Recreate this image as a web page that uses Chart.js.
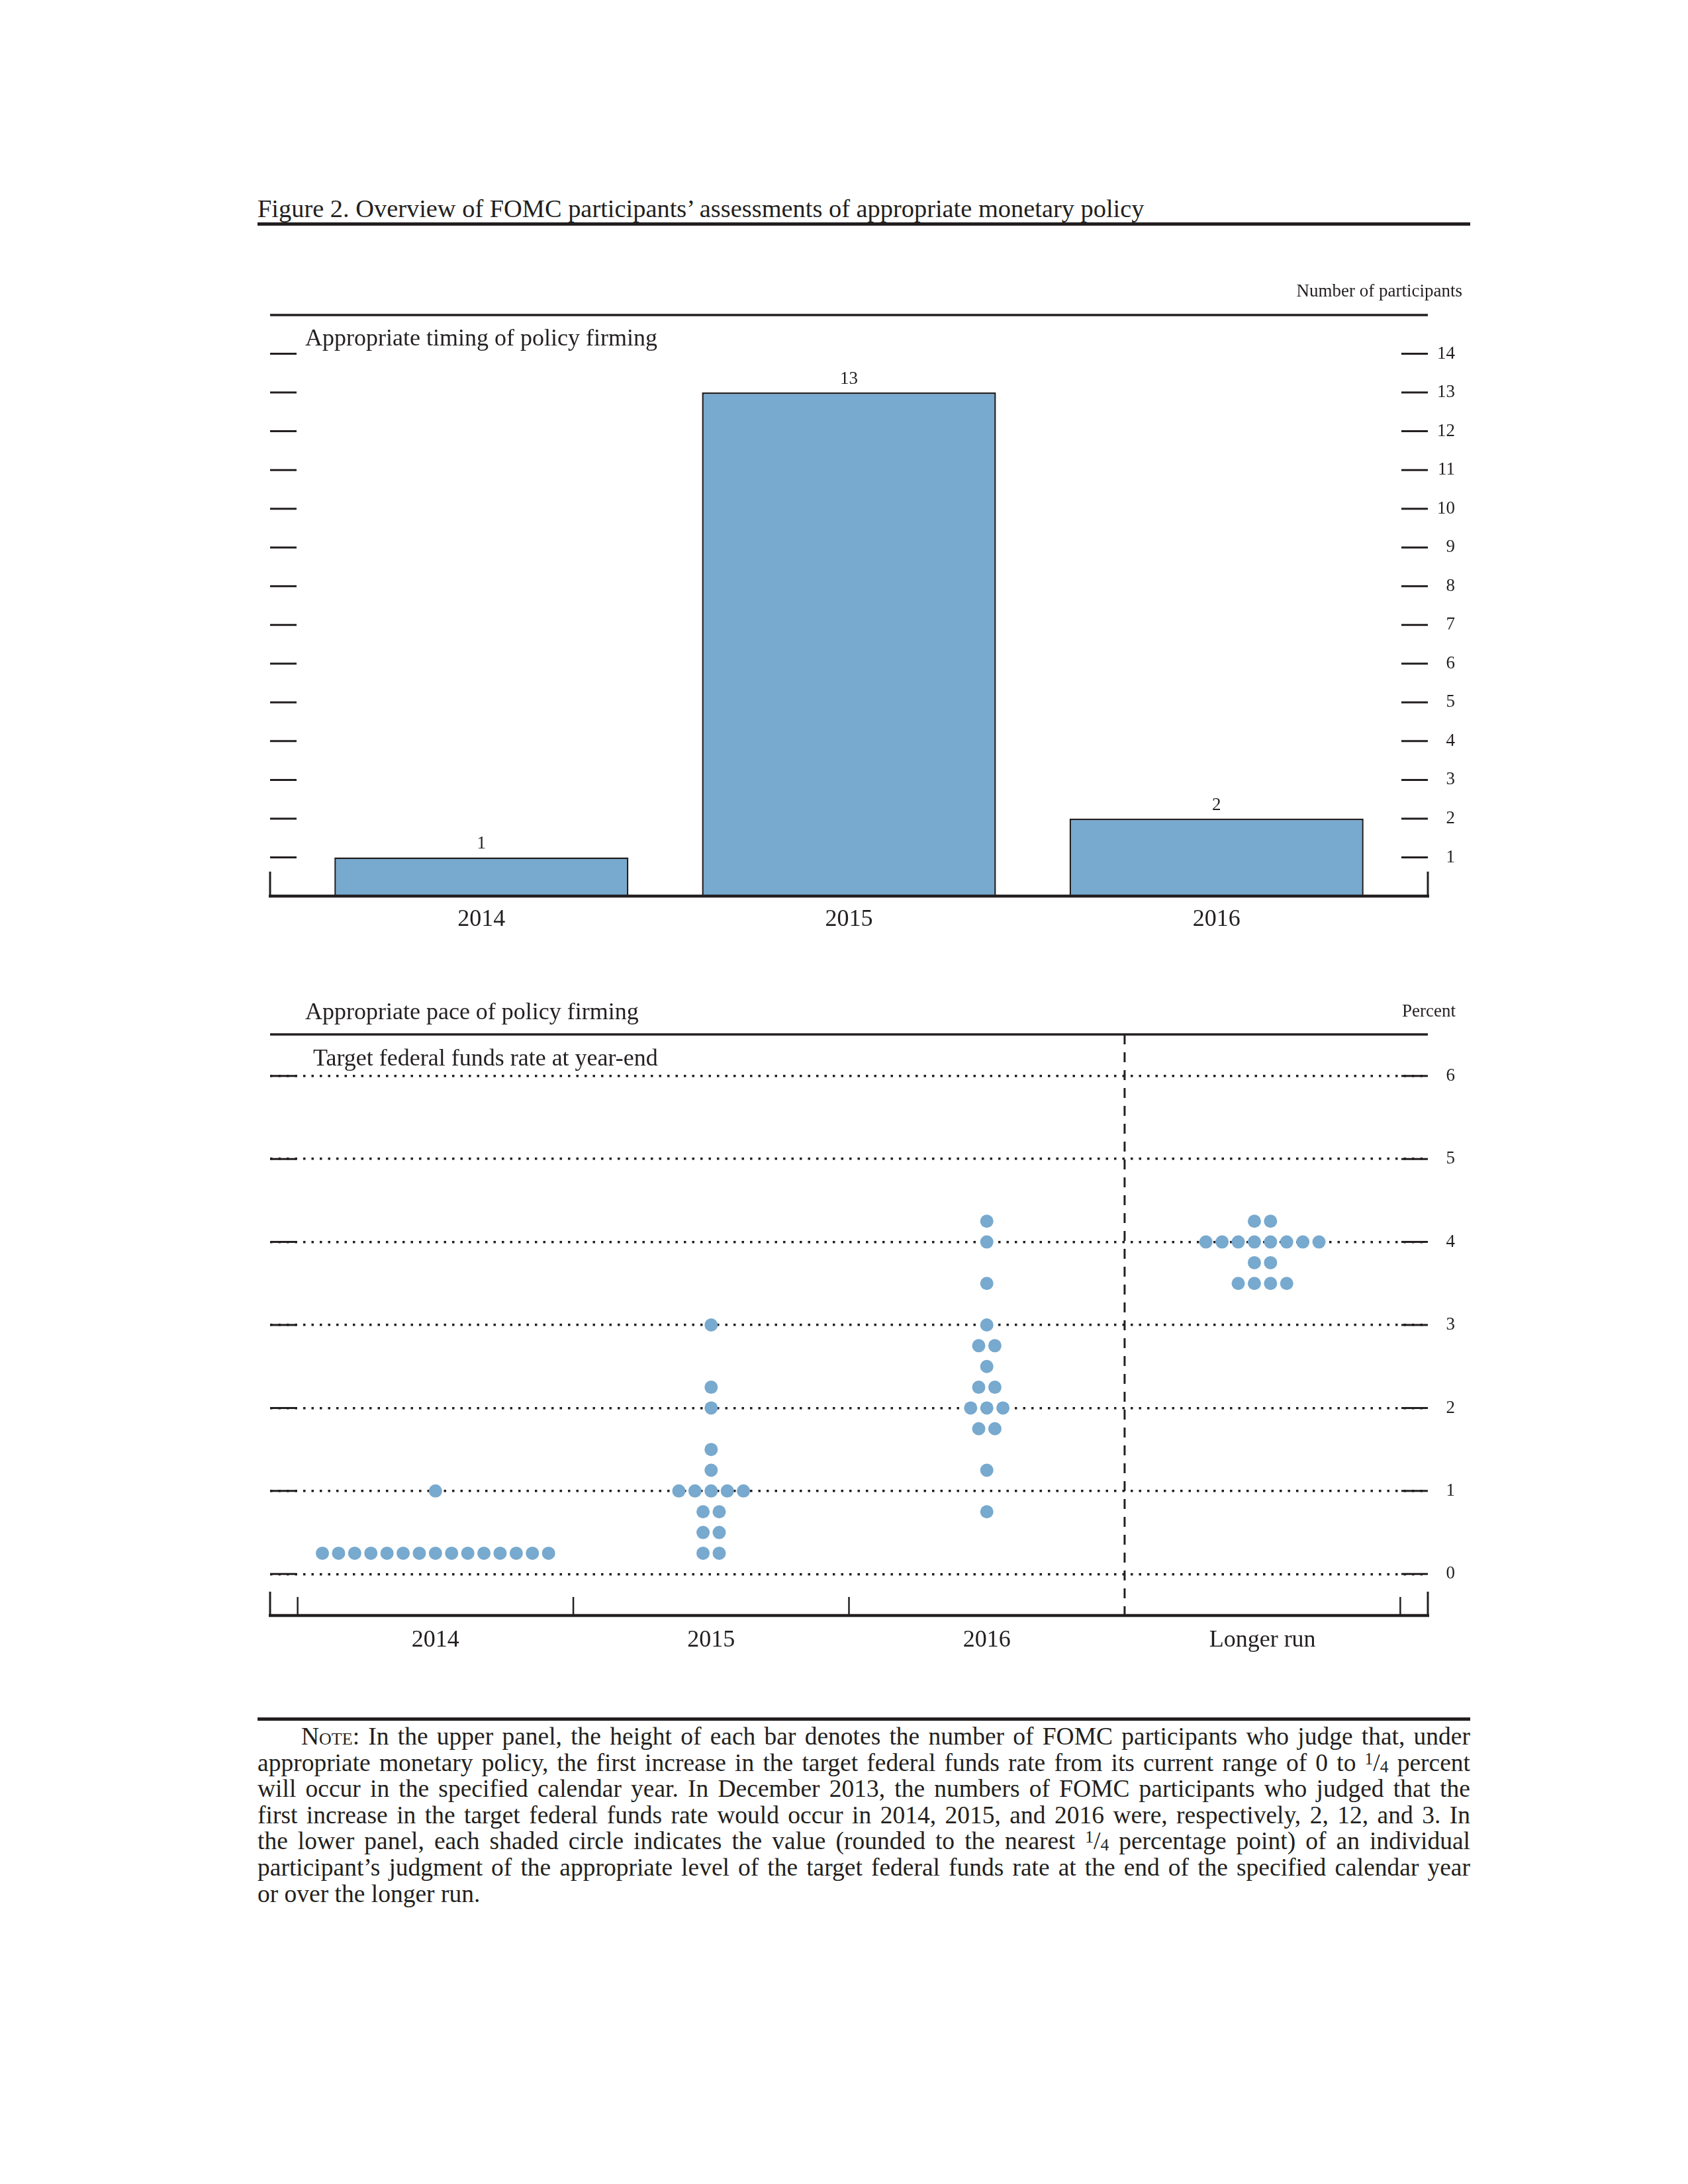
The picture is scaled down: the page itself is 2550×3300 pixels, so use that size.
<!DOCTYPE html>
<html><head><meta charset="utf-8">
<script src="https://cdn.jsdelivr.net/npm/chart.js@4.4.1/dist/chart.umd.min.js"></script>
<style>
html,body{margin:0;padding:0;background:#fff;}
body{width:2550px;height:3300px;position:relative;overflow:hidden;font-family:"Liberation Serif","DejaVu Serif",serif;color:#231f20;}
.t{position:absolute;white-space:nowrap;line-height:1;}
.rule{position:absolute;background:#231f20;}
canvas{position:absolute;}
.fr sup{font-size:0.68em;vertical-align:0.38em;line-height:0;}
.fr sub{font-size:0.68em;vertical-align:-0.08em;line-height:0;}
.sc{font-variant:small-caps;}
.nt{font-size:37.5px;}
</style></head><body>

<canvas id="topChart" width="1850" height="1060" style="left:380px;top:380px;"></canvas>
<canvas id="paceChart" width="1850" height="1060" style="left:380px;top:1480px;"></canvas>

<div class="t" style="left:389px;top:296px;font-size:38.4px;">Figure 2. Overview of FOMC participants’ assessments of appropriate monetary policy</div>
<div class="rule" style="left:389px;top:336px;width:1832px;height:5px;"></div>

<div class="t" style="right:341px;top:426px;font-size:27px;">Number of participants</div>
<div class="t" style="left:461px;top:492px;font-size:36px;">Appropriate timing of policy firming</div>

<div class="t" style="left:461px;top:1510px;font-size:36px;">Appropriate pace of policy firming</div>
<div class="t" style="right:351px;top:1514px;font-size:27px;">Percent</div>
<div class="t" style="left:473px;top:1580px;font-size:36px;">Target federal funds rate at year-end</div>

<div class="rule" style="left:389px;top:2595px;width:1832px;height:5px;"></div>
<div class="t jl nt" data-w="1766" style="left:455px;top:2605px;"><span class="sc">Note</span>: In the upper panel, the height of each bar denotes the number of FOMC participants who judge that, under</div>
<div class="t jl nt" data-w="1832" style="left:389px;top:2644.6px;">appropriate monetary policy, the first increase in the target federal funds rate from its current range of 0 to <span class="fr"><sup>1</sup>/<sub>4</sub></span> percent</div>
<div class="t jl nt" data-w="1832" style="left:389px;top:2684.2px;">will occur in the specified calendar year. In December 2013, the numbers of FOMC participants who judged that the</div>
<div class="t jl nt" data-w="1832" style="left:389px;top:2723.8px;">first increase in the target federal funds rate would occur in 2014, 2015, and 2016 were, respectively, 2, 12, and 3. In</div>
<div class="t jl nt" data-w="1832" style="left:389px;top:2763.4px;">the lower panel, each shaded circle indicates the value (rounded to the nearest <span class="fr"><sup>1</sup>/<sub>4</sub></span> percentage point) of an individual</div>
<div class="t jl nt" data-w="1832" style="left:389px;top:2803px;">participant’s judgment of the appropriate level of the target federal funds rate at the end of the specified calendar year</div>
<div class="t nt" style="left:389px;top:2842.6px;">or over the longer run.</div>

<script>
// ---------- data ----------
const timingYears = ['2014', '2015', '2016'];
const timingCounts = [1, 13, 2];
const timingTicks = [1, 2, 3, 4, 5, 6, 7, 8, 9, 10, 11, 12, 13, 14];

const paceCategories = ['2014', '2015', '2016', 'Longer run'];
const rates2014 = [0.25, 0.25, 0.25, 0.25, 0.25, 0.25, 0.25, 0.25, 0.25, 0.25, 0.25, 0.25, 0.25, 0.25, 0.25, 1];
const rates2015 = [0.25, 0.25, 0.5, 0.5, 0.75, 0.75, 1, 1, 1, 1, 1, 1.25, 1.5, 2, 2.25, 3];
const rates2016 = [0.75, 1.25, 1.75, 1.75, 2, 2, 2, 2.25, 2.25, 2.5, 2.75, 2.75, 3, 3.5, 4, 4.25];
const ratesLongerRun = [3.5, 3.5, 3.5, 3.5, 3.75, 3.75, 4, 4, 4, 4, 4, 4, 4, 4, 4.25, 4.25];
const paceTicks = [0, 1, 2, 3, 4, 5, 6];

// ---------- style ----------
const INK = '#231f20';
const BLUE = 'rgb(120,169,206)';
const FONT = '"Liberation Serif", "DejaVu Serif", serif';
const DOT_STEP = 0.0586; // horizontal spacing of stacked dots, in category units

// ---------- justify note lines ----------
document.querySelectorAll('.jl').forEach(el => {
  const target = +el.dataset.w;
  el.style.wordSpacing = '0px';
  const natural = el.getBoundingClientRect().width;
  const spaces = (el.textContent.match(/ /g) || []).length;
  el.style.wordSpacing = ((target - natural) / spaces) + 'px';
});

function seg(ctx, x1, y1, x2, y2, w, dash) {
  ctx.save();
  ctx.strokeStyle = INK; ctx.lineWidth = w; ctx.lineCap = 'butt';
  ctx.setLineDash(dash || []);
  ctx.beginPath(); ctx.moveTo(x1, y1); ctx.lineTo(x2, y2); ctx.stroke();
  ctx.restore();
}

// ---------- top panel ----------
const topFrame = {
  id: 'topFrame',
  afterDraw(chart) {
    const { ctx, chartArea: a, scales: { y } } = chart;
    seg(ctx, a.left, a.top, a.right, a.top, 3.5);
    seg(ctx, a.left - 2, a.bottom, a.right + 2, a.bottom, 4.5);
    seg(ctx, a.left, a.bottom, a.left, a.bottom - 37, 3);
    seg(ctx, a.right, a.bottom, a.right, a.bottom - 37, 3);
    y.ticks.forEach(t => {
      const py = y.getPixelForValue(t.value);
      seg(ctx, a.left, py, a.left + 40, py, 3);
      seg(ctx, a.right - 40, py, a.right, py, 3);
    });
  }
};
const barLabels = {
  id: 'barLabels',
  afterDatasetsDraw(chart) {
    const ctx = chart.ctx;
    const meta = chart.getDatasetMeta(0);
    ctx.save();
    ctx.font = '27px ' + FONT; ctx.fillStyle = INK;
    ctx.textAlign = 'center'; ctx.textBaseline = 'alphabetic';
    meta.data.forEach((el, i) => ctx.fillText(String(timingCounts[i]), el.x, el.y - 13));
    ctx.restore();
  }
};

new Chart(document.getElementById('topChart'), {
  type: 'bar',
  data: {
    datasets: [{
      data: timingCounts.map((v, i) => ({ x: i, y: v })),
      backgroundColor: BLUE, borderColor: INK, borderWidth: 2.5, borderSkipped: 'bottom',
      barPercentage: 0.8, categoryPercentage: 1
    }]
  },
  options: {
    responsive: false, animation: false, devicePixelRatio: 1,
    layout: { padding: { left: 28, top: 96, right: 32, bottom: 0 } },
    plugins: { legend: { display: false }, tooltip: { enabled: false } },
    scales: {
      x: {
        type: 'linear', min: -0.575, max: 2.575, offset: false,
        afterBuildTicks(s) { s.ticks = timingYears.map((_, i) => ({ value: i })); },
        afterFit(s) { s.height = 86; },
        grid: { display: false }, border: { display: false },
        ticks: { callback: v => timingYears[v], font: { family: FONT, size: 36 }, color: INK, padding: 6, autoSkip: false, maxRotation: 0 }
      },
      y: {
        position: 'right', min: 0, max: 15,
        afterBuildTicks(s) { s.ticks = timingTicks.map(v => ({ value: v })); },
        afterFit(s) { s.width = 41; },
        grid: { display: false }, border: { display: false },
        ticks: { font: { family: FONT, size: 27 }, color: INK, padding: 10, crossAlign: 'far' }
      }
    }
  },
  plugins: [topFrame, barLabels]
});

// ---------- lower panel ----------
function dotPoints(rates, cat) {
  const groups = new Map();
  rates.forEach(r => groups.set(r, (groups.get(r) || 0) + 1));
  const pts = [];
  groups.forEach((n, r) => {
    for (let k = 0; k < n; k++) pts.push({ x: cat + (k - (n - 1) / 2) * DOT_STEP, y: r });
  });
  return pts;
}
const allDots = [rates2014, rates2015, rates2016, ratesLongerRun].flatMap((r, i) => dotPoints(r, i));

const paceFrame = {
  id: 'paceFrame',
  afterDraw(chart) {
    const { ctx, chartArea: a, scales: { x, y } } = chart;
    seg(ctx, a.left, a.top, a.right, a.top, 3.5);
    seg(ctx, a.left - 2, a.bottom, a.right + 2, a.bottom, 4.5);
    seg(ctx, a.left, a.bottom, a.left, a.bottom - 36, 3);
    seg(ctx, a.right, a.bottom, a.right, a.bottom - 36, 3);
    [-0.5, 0.5, 1.5, 3.5].forEach(v => {
      const px = x.getPixelForValue(v);
      seg(ctx, px, a.bottom, px, a.bottom - 28, 2.5);
    });
    const dx = x.getPixelForValue(2.5);
    seg(ctx, dx, a.top, dx, a.bottom, 3, [15, 12]);
    y.ticks.forEach(t => {
      const py = y.getPixelForValue(t.value);
      seg(ctx, a.left, py, a.left + 40, py, 3);
      seg(ctx, a.right - 40, py, a.right, py, 3);
    });
  }
};

new Chart(document.getElementById('paceChart'), {
  type: 'scatter',
  data: {
    datasets: [{
      data: allDots,
      pointRadius: 10, pointHoverRadius: 10, pointBackgroundColor: BLUE, pointBorderWidth: 0,
      borderWidth: 0, showLine: false
    }]
  },
  options: {
    responsive: false, animation: false, devicePixelRatio: 1,
    layout: { padding: { left: 28, top: 83, right: 32, bottom: 0 } },
    plugins: { legend: { display: false }, tooltip: { enabled: false } },
    scales: {
      x: {
        type: 'linear', min: -0.6, max: 3.6, offset: false,
        afterBuildTicks(s) { s.ticks = paceCategories.map((_, i) => ({ value: i })); },
        afterFit(s) { s.height = 99; },
        grid: { display: false }, border: { display: false },
        ticks: { callback: v => paceCategories[v], font: { family: FONT, size: 36 }, color: INK, padding: 8, autoSkip: false, maxRotation: 0 }
      },
      y: {
        position: 'right', min: -0.5, max: 6.5, z: 1,
        afterBuildTicks(s) { s.ticks = paceTicks.map(v => ({ value: v })); },
        afterFit(s) { s.width = 41; },
        grid: { color: INK, lineWidth: 3.5, drawTicks: false },
        border: { display: false, dash: [3.5, 9] },
        ticks: { font: { family: FONT, size: 27 }, color: INK, padding: 10, crossAlign: 'far' }
      }
    }
  },
  plugins: [paceFrame]
});
</script>
</body></html>
